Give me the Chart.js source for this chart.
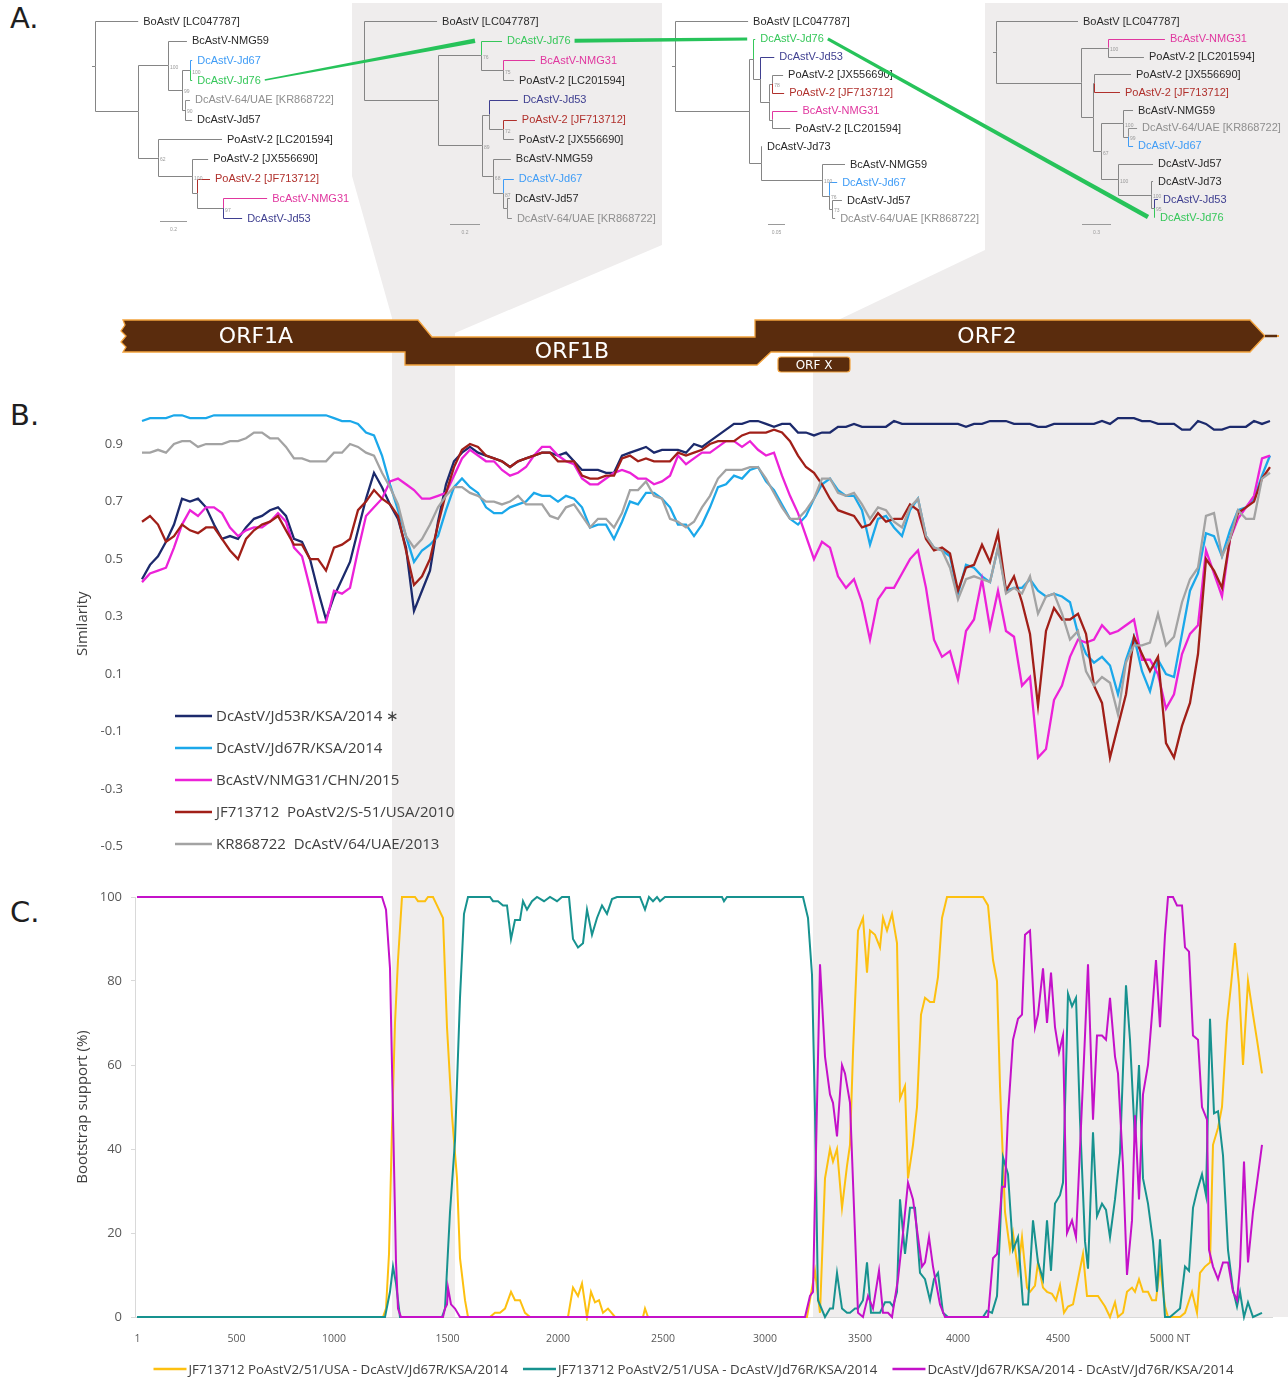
<!DOCTYPE html>
<html><head><meta charset="utf-8">
<script src="https://cdn.jsdelivr.net/npm/chart.js@4.4.1/dist/chart.umd.min.js"></script>
<style>
html,body{margin:0;padding:0;background:#fff;}
#page{position:relative;width:1288px;height:1380px;overflow:hidden;background:#fff;}
.bg{position:absolute;left:0;top:0;width:1288px;height:1380px;background:#efeded;}
canvas{position:absolute;left:0;}
.letter{position:absolute;left:10px;font-family:'DejaVu Sans',sans-serif;font-size:29px;color:#1e1e1e;line-height:1;}
</style></head><body>
<div id="page">
<div class="bg" id="bgL"></div><div class="bg" id="bgR"></div>
<div class="letter" style="top:4px">A.</div>
<div class="letter" style="top:401px">B.</div>
<div class="letter" style="top:898px">C.</div>
<canvas id="cTree" width="1288" height="300" style="top:0"></canvas>
<canvas id="cOrf" width="1288" height="85" style="top:300px"></canvas>
<canvas id="cSim" width="1288" height="480" style="top:390px"></canvas>
<canvas id="cBoot" width="1288" height="500" style="top:880px"></canvas>
</div>
<script>
// ---------------- DATA ----------------
// Panel A: maximum-likelihood trees (Newick, branch lengths in substitutions/site, node labels = bootstrap)
const taxonNames = {BO:'BoAstV [LC047787]', N59:'BcAstV-NMG59', J67:'DcAstV-Jd67', J76:'DcAstV-Jd76',
  KR:'DcAstV-64/UAE [KR868722]', J57:'DcAstV-Jd57', LC:'PoAstV-2 [LC201594]', JX:'PoAstV-2 [JX556690]',
  JF:'PoAstV-2 [JF713712]', N31:'BcAstV-NMG31', J53:'DcAstV-Jd53', J73:'DcAstV-Jd73'};
const tree1 = "(BO:0.32,((N59:0.14,((J67:0.015,J76:0.015)100:0.06,(KR:0.037,J57:0.052)90:0.022)99:0.104)100:0.222,(LC:0.474,(JX:0.119,(JF:0.096,(N31:0.326,J53:0.141)97:0.193):0.037)100:0.252)62:0.148):0.319);";
const tree2 = "(BO:0.487,((J76:0.14,(N31:0.213,LC:0.073)75:0.147)76:0.287,((J53:0.193,(JF:0.093,JX:0.073)72:0.093):0.047,(N59:0.12,(J67:0.073,(J57:0.02,KR:0.033):0.027)87:0.067)68:0.073)89:0.293):0.493);";
const tree3 = "(BO:0.215,((J76:0.006,(J53:0.041,((JX:0.032,JF:0.035)78:0.009,(N31:0.074,LC:0.053):0.009):0.026):0.021):0.012,(J73:0.003,(N59:0.068,(J67:0.024,(J57:0.029,KR:0.009)73:0.009)76:0.021)100:0.179):0.035):0.218);";
const tree4 = "(BO:0.848,((N31:0.589,LC:0.372)100:0.279,((JX:0.383,JF:0.269):0.010,((N59:0.103,(KR:0.093,J67:0.052)99:0.052)100:0.228,(J57:0.362,(J73:0.021,(J53:0.041,J76:0.010)95:0.031)100:0.341)100:0.176)67:0.083):0.124):0.879);";
const treeScaleBars = [0.2, 0.2, 0.05, 0.3];

// Genome map (alignment columns)
const orfLabels  = ['ORF1A','ORF1B','ORF2','ORF X'];
const orfStart   = [-60, 1350, 3100, 3215];
const orfEnd     = [1415, 3110, 5650, 3575];
const orfLabelAt = [605, 2185, 4260, 3395];
const recombRegions = [[1285, 1600], [3390, 5765]];

// Panel B: similarity plot, windows every 40 columns starting at column 35
const SIM_START = 35, SIM_STEP = 40;
const simLabels = ['DcAstV/Jd53R/KSA/2014 \u2217','DcAstV/Jd67R/KSA/2014','BcAstV/NMG31/CHN/2015','JF713712  PoAstV2/S-51/USA/2010','KR868722  DcAstV/64/UAE/2013'];
const simTicks = [-0.5,-0.3,-0.1,0.1,0.3,0.5,0.7,0.9];
const simJd53 = [
0.43,0.48,0.51,0.56,0.62,0.71,0.70,0.71,0.68,0.62,
0.57,0.58,0.57,0.61,0.64,0.65,0.67,0.68,0.65,0.57,
0.56,0.50,0.39,0.29,0.37,0.43,0.49,0.60,0.71,0.80,
0.75,0.69,0.64,0.54,0.32,0.39,0.46,0.63,0.76,0.84,
0.87,0.89,0.87,0.86,0.85,0.84,0.82,0.84,0.85,0.86,
0.87,0.87,0.86,0.87,0.84,0.81,0.81,0.81,0.80,0.80,
0.86,0.87,0.88,0.89,0.87,0.88,0.88,0.88,0.87,0.90,
0.89,0.91,0.93,0.95,0.97,0.97,0.98,0.98,0.97,0.96,
0.97,0.97,0.94,0.94,0.93,0.94,0.94,0.96,0.96,0.97,
0.96,0.96,0.96,0.96,0.98,0.97,0.97,0.97,0.97,0.97,
0.97,0.97,0.97,0.96,0.97,0.97,0.98,0.98,0.98,0.97,
0.97,0.97,0.96,0.96,0.97,0.97,0.97,0.97,0.97,0.97,
0.98,0.97,0.99,0.99,0.99,0.98,0.98,0.97,0.97,0.97,
0.95,0.95,0.98,0.97,0.95,0.95,0.96,0.96,0.96,0.98,
0.97,0.98];
const simJd67 = [
0.98,0.99,0.99,0.99,1.00,1.00,0.99,0.99,0.99,1.00,
1.00,1.00,1.00,1.00,1.00,1.00,1.00,1.00,1.00,1.00,
1.00,1.00,1.00,1.00,0.99,0.98,0.98,0.97,0.94,0.93,
0.86,0.76,0.67,0.58,0.49,0.53,0.55,0.58,0.67,0.75,
0.78,0.75,0.73,0.68,0.66,0.66,0.68,0.69,0.70,0.73,
0.72,0.72,0.70,0.72,0.71,0.68,0.61,0.62,0.62,0.57,
0.63,0.70,0.69,0.73,0.73,0.71,0.68,0.62,0.62,0.58,
0.62,0.68,0.75,0.76,0.79,0.78,0.81,0.82,0.77,0.74,
0.69,0.64,0.62,0.65,0.71,0.76,0.78,0.74,0.72,0.72,
0.67,0.55,0.64,0.65,0.61,0.58,0.67,0.71,0.58,0.54,
0.53,0.51,0.38,0.48,0.47,0.44,0.42,0.54,0.39,0.40,
0.40,0.43,0.39,0.37,0.38,0.37,0.35,0.24,0.17,0.14,
0.16,0.13,0.03,0.15,0.23,0.11,0.04,0.15,0.10,0.09,
0.24,0.39,0.45,0.59,0.58,0.51,0.60,0.67,0.68,0.71,
0.79,0.86];
const simNMG31 = [
0.42,0.45,0.46,0.47,0.54,0.62,0.67,0.65,0.68,0.68,
0.66,0.61,0.58,0.60,0.61,0.61,0.63,0.66,0.63,0.54,
0.51,0.40,0.28,0.28,0.39,0.38,0.40,0.53,0.65,0.68,
0.71,0.77,0.78,0.76,0.74,0.71,0.71,0.72,0.73,0.79,
0.85,0.88,0.86,0.84,0.84,0.81,0.79,0.80,0.82,0.86,
0.89,0.89,0.86,0.84,0.83,0.78,0.76,0.76,0.78,0.80,
0.81,0.80,0.78,0.78,0.76,0.77,0.79,0.86,0.83,0.85,
0.87,0.87,0.89,0.91,0.91,0.89,0.91,0.88,0.86,0.87,
0.79,0.72,0.66,0.58,0.50,0.56,0.54,0.44,0.40,0.43,
0.35,0.22,0.36,0.40,0.40,0.45,0.50,0.53,0.40,0.22,
0.16,0.18,0.08,0.25,0.29,0.43,0.26,0.39,0.25,0.23,
0.06,0.09,-0.19,-0.16,0.01,0.06,0.16,0.22,0.21,0.22,
0.27,0.24,0.25,0.27,0.29,0.15,0.15,0.10,-0.02,0.03,
0.17,0.24,0.27,0.53,0.45,0.37,0.57,0.64,0.68,0.72,
0.85,0.86];
const simJF713712 = [
0.63,0.65,0.62,0.56,0.58,0.62,0.60,0.59,0.61,0.61,
0.57,0.53,0.50,0.57,0.60,0.62,0.63,0.65,0.60,0.55,
0.55,0.50,0.50,0.46,0.54,0.55,0.57,0.67,0.70,0.74,
0.71,0.69,0.65,0.53,0.41,0.44,0.50,0.62,0.73,0.82,
0.88,0.90,0.89,0.86,0.85,0.84,0.82,0.84,0.85,0.86,
0.87,0.87,0.84,0.84,0.84,0.79,0.78,0.78,0.79,0.79,
0.85,0.86,0.84,0.85,0.84,0.84,0.84,0.87,0.86,0.87,
0.88,0.90,0.91,0.91,0.91,0.93,0.94,0.94,0.94,0.95,
0.94,0.91,0.86,0.82,0.80,0.76,0.71,0.67,0.66,0.65,
0.61,0.62,0.66,0.63,0.64,0.64,0.69,0.67,0.57,0.53,
0.54,0.52,0.39,0.47,0.48,0.55,0.49,0.59,0.39,0.44,
0.35,0.24,-0.01,0.25,0.33,0.29,0.29,0.31,0.24,0.06,
0.00,-0.19,-0.08,0.03,0.23,0.17,0.11,0.16,-0.14,-0.19,
-0.08,0.00,0.17,0.50,0.46,0.40,0.57,0.66,0.68,0.70,
0.78,0.82];
const simKR868722 = [
0.87,0.87,0.88,0.87,0.90,0.91,0.91,0.89,0.90,0.90,
0.90,0.91,0.91,0.92,0.94,0.94,0.92,0.92,0.89,0.85,
0.85,0.84,0.84,0.84,0.87,0.87,0.90,0.89,0.87,0.86,
0.80,0.75,0.69,0.58,0.54,0.57,0.62,0.68,0.72,0.75,
0.75,0.73,0.72,0.70,0.70,0.69,0.70,0.72,0.69,0.69,
0.69,0.65,0.64,0.68,0.69,0.65,0.61,0.64,0.64,0.61,
0.66,0.74,0.74,0.77,0.72,0.71,0.64,0.63,0.61,0.63,
0.68,0.72,0.78,0.81,0.81,0.81,0.82,0.82,0.78,0.73,
0.68,0.64,0.64,0.67,0.71,0.78,0.78,0.73,0.72,0.73,
0.69,0.64,0.68,0.67,0.63,0.61,0.68,0.71,0.58,0.54,
0.53,0.47,0.36,0.43,0.44,0.43,0.42,0.54,0.38,0.40,
0.38,0.44,0.31,0.37,0.38,0.31,0.22,0.25,0.11,0.06,
0.09,0.07,-0.04,0.14,0.20,0.20,0.21,0.31,0.20,0.23,
0.35,0.43,0.47,0.65,0.66,0.51,0.57,0.67,0.64,0.64,
0.78,0.80];

// Panel C: bootscan (alignment column, bootstrap %)
const bootLabels = ['JF713712 PoAstV2/51/USA - DcAstV/Jd67R/KSA/2014','JF713712 PoAstV2/51/USA - DcAstV/Jd76R/KSA/2014','DcAstV/Jd67R/KSA/2014 - DcAstV/Jd76R/KSA/2014'];
const bootTickAt = [12,508,995,1562,2115,2640,3150,3625,4115,4615,5175];
const bootTickLabels = ['1','500','1000','1500','2000','2500','3000','3500','4000','4500','5000 NT'];
const bootJF67Pos = [10,1240,1255,1270,1285,1300,1315,1335,1400,1415,1450,1465,1490,1510,1540,1560,1585,1610,1625,1650,1665,1775,1800,1825,1850,1880,1900,1925,1950,1975,2165,2190,2215,2235,2260,2280,2300,2320,2340,2365,2400,2540,2550,2565,3360,3400,3425,3450,3475,3490,3510,3535,3560,3575,3590,3615,3640,3660,3675,3700,3725,3740,3760,3785,3810,3825,3850,3865,3890,3910,3930,3950,3975,3995,4015,4035,4060,4240,4265,4290,4310,4325,4350,4375,4390,4415,4435,4460,4475,4500,4515,4540,4560,4585,4605,4625,4645,4665,4690,4715,4740,4760,4790,4815,4850,4875,4900,4915,4940,4960,4985,5000,5020,5040,5065,5085,5105,5125,5150,5165,5225,5250,5285,5310,5325,5350,5375,5390,5415,5435,5460,5480,5500,5520,5540,5565,5590,5610,5635];
const bootJF67    = [0,0,2,15,45,70,85,100,100,99,99,100,100,98,95,69,48,33,14,4,0,0,1,1,2,6,4,4,1,0,0,7,5,8,0,6,3.5,4,1,2,0,0,2,0,0,11,1,33,40,37,40,26,36,41,63,92,95,82,92,91,88,95,92,96,89,52,55,33,41,50,72,76,75,75,81,95,100,100,98,85,80,55,25,16,20,11,19,7,6,7.5,13,7,6,5.5,4,7.5,1,2.5,3,9,15,5,5,5,2.5,0,3.5,0,1,6,7,6,9,6,6,4,4,12,2.5,0,0,1,6,1,10.5,12,13,41,45,50,70,79,89,79,60,80,72,66,58];
const bootJF76Pos = [10,1250,1275,1290,1305,1325,1535,1550,1575,1600,1625,1645,1665,1775,1790,1815,1840,1860,1880,1900,1925,1940,1960,1985,2010,2045,2075,2110,2135,2170,2190,2215,2240,2260,2285,2310,2335,2360,2385,2410,2525,2550,2570,2590,2610,2625,2650,2935,2945,2960,3340,3365,3385,3400,3415,3450,3475,3490,3510,3535,3560,3575,3600,3615,3640,3660,3680,3725,3750,3775,3790,3810,3825,3850,3875,3900,3925,3950,3975,3995,4015,4040,4065,4240,4260,4285,4310,4325,4340,4365,4390,4415,4440,4465,4490,4515,4540,4560,4580,4600,4625,4640,4665,4685,4705,4725,4750,4765,4790,4810,4835,4855,4875,4900,4925,4955,4975,5000,5020,5040,5065,5090,5110,5125,5150,5175,5200,5225,5250,5270,5290,5310,5335,5355,5375,5395,5415,5440,5465,5490,5510,5525,5545,5565,5590,5635];
const bootJF76    = [0,0,6,12,8,0,0,2,25,42,76,96,100,100,99,99,98,98,90,94.5,94.5,99,97,99,100,99,100,99,100,100,90,88,89,97,91,95,98,96,99.5,100,100,97,100,99,100,99,100,100,99,100,100,95,81.5,48.5,4,0,2,2,10.5,2,1,1,2,2,4,13,1,1,3.5,3.5,2.5,6,28,15,26,26,10.5,9,4,9,10.5,1,0,0,1.5,1,5,20,38,34,16,19,3,3,23,13,9,23,11,27,29,32,77,74,76,47,18,11.5,44,24,27,25.5,19,28,39,79,66,42,60,33,27,18,6,18.5,0,0,1,2,12,11,26,30,34,29,71,48.5,49,38.5,16,6.5,2.5,6,0,3.5,0,1];
const boot6776Pos = [10,1235,1255,1275,1290,1305,1315,1330,1540,1550,1560,1565,1580,1600,1625,3350,3375,3390,3425,3450,3475,3490,3510,3535,3550,3575,3615,3640,3665,3690,3720,3740,3765,3785,3815,3840,3865,3890,3915,3935,3950,3970,3990,4025,4050,4265,4290,4310,4335,4350,4365,4390,4415,4435,4450,4475,4500,4515,4540,4560,4580,4600,4620,4640,4660,4685,4705,4725,4750,4765,4790,4810,4835,4855,4875,4900,4915,4940,4960,4985,5000,5020,5040,5065,5085,5105,5125,5150,5165,5190,5210,5235,5250,5270,5290,5315,5335,5360,5370,5390,5415,5440,5465,5490,5510,5525,5545,5565,5590,5610,5635];
const boot6776    = [100,100,97,83,48,13,2,0,0,2,3,7,3,2,0,0,5,6,84,62,53,51,43,60,58,51,1,0,5,2,11,1,1,0,9,20,32,28,19,12,13,19,12,3,0,0,14,15,31,31,48,66,71,72,91,92,69,72,83,70,82,69,63,67,20,23,19,40,67,84,47,67,67,66,76,62,58,36,10,23,48,28,53,60,72,85,69,91,100,100,98,98,88,87,67,66,50,47,16,12,9,13,13,6,4,12,37,13,25,32,41];

// ---------------- STYLE ----------------
Chart.defaults.font.family = "'Open Sans', 'DejaVu Sans', sans-serif";
const simColors  = ['#1c2a6c', '#1ba8ea', '#ec22d8', '#a11f18', '#a3a3a3'];
const bootColors = ['#fdc010', '#17928f', '#c411c9'];
const taxonColor = {J67:'#3f9cf6', J76:'#36c75a', KR:'#8f8f8f', JF:'#b0302c', N31:'#e0379f', J53:'#3f3f90'};
const LABEL_DARK = '#2a2a2a', BRANCH_GRAY = '#858585', LINK_GREEN = '#27c35a';
const treeLayout = [
  {rootX:95,  top:21, bottom:218, pxPerUnit:135,  barX:160,  barY:221},
  {rootX:364, top:21, bottom:218, pxPerUnit:150,  barX:450,  barY:224},
  {rootX:675, top:21, bottom:218, pxPerUnit:340,  barX:768,  barY:224},
  {rootX:996, top:21, bottom:217, pxPerUnit:96.7, barX:1082, barY:224}
];
const noAutoPad = a => { a.width = 65; a.paddingTop = 0; a.paddingBottom = 0; };

// ---------------- TREES ----------------
function parseNewick(s){
  let i = 0;
  function node(parent){
    const n = {children:[], name:'', len:0, support:'', parent};
    if (s[i] === '('){
      i++; n.children.push(node(n));
      while (s[i] === ','){ i++; n.children.push(node(n)); }
      i++;
    }
    let lab = ''; while (i < s.length && !':,);'.includes(s[i])) lab += s[i++];
    if (n.children.length) n.support = lab; else n.name = lab;
    if (s[i] === ':'){ i++; let num=''; while (i < s.length && !',);'.includes(s[i])) num += s[i++]; n.len = parseFloat(num); }
    return n;
  }
  return node(null);
}
function layoutTree(root, cfg){
  const leaves = [];
  (function collect(n){ if (!n.children.length) leaves.push(n); else n.children.forEach(collect); })(root);
  leaves.forEach((l,k) => l.yv = cfg.top + k*(cfg.bottom-cfg.top)/(leaves.length-1));
  (function pos(n, d){
    n.xv = cfg.rootX + d*cfg.pxPerUnit;
    n.children.forEach(c => pos(c, d + c.len));
    if (n.children.length) n.yv = (n.children[0].yv + n.children[n.children.length-1].yv)/2;
  })(root, 0);
  return leaves;
}
const trees = [tree1, tree2, tree3, tree4].map((nw, k) => {
  const root = parseNewick(nw);
  const leaves = layoutTree(root, treeLayout[k]);
  return {root, leaves, cfg: treeLayout[k], bar: treeScaleBars[k]};
});

function wedge(ctx, x1, y1, x2, y2, w1, w2, color){
  const dx = x2-x1, dy = y2-y1, L = Math.hypot(dx, dy), nx = -dy/L, ny = dx/L;
  ctx.beginPath();
  ctx.moveTo(x1+nx*w1/2, y1+ny*w1/2); ctx.lineTo(x2+nx*w2/2, y2+ny*w2/2);
  ctx.lineTo(x2-nx*w2/2, y2-ny*w2/2); ctx.lineTo(x1-nx*w1/2, y1-ny*w1/2);
  ctx.closePath(); ctx.fillStyle = color; ctx.fill();
}

const treePlugin = {
  id:'trees',
  afterDraw(chart){
    const {ctx, scales:{x, y}} = chart;
    const X = v => x.getPixelForValue(v), Y = v => y.getPixelForValue(v);
    ctx.save();
    const labelFont = "11px 'Liberation Sans', Arial, sans-serif";
    trees.forEach(t => {
      ctx.lineWidth = 1;
      (function edges(n){
        n.children.forEach(c => {
          ctx.strokeStyle = c.children.length ? BRANCH_GRAY : (taxonColor[c.name] || BRANCH_GRAY);
          ctx.beginPath();
          ctx.moveTo(Math.round(X(n.xv))+0.5, Y(n.yv));
          ctx.lineTo(Math.round(X(n.xv))+0.5, Math.round(Y(c.yv))+0.5);
          ctx.lineTo(X(c.xv), Math.round(Y(c.yv))+0.5);
          ctx.stroke();
          edges(c);
        });
      })(t.root);
      ctx.strokeStyle = BRANCH_GRAY;
      ctx.beginPath(); ctx.moveTo(X(t.root.xv)-3, Math.round(Y(t.root.yv))+0.5); ctx.lineTo(X(t.root.xv), Math.round(Y(t.root.yv))+0.5); ctx.stroke();
      ctx.font = labelFont; ctx.textBaseline = 'middle'; ctx.textAlign = 'left';
      t.leaves.forEach(l => {
        ctx.fillStyle = taxonColor[l.name] || LABEL_DARK;
        ctx.fillText(taxonNames[l.name], X(l.xv)+5, Y(l.yv)+0.5);
      });
      ctx.font = "5px 'Liberation Sans', Arial, sans-serif"; ctx.fillStyle = '#9a9a9a';
      (function sup(n){ if (n.support) ctx.fillText(n.support, X(n.xv)+2, Y(n.yv)+2); n.children.forEach(sup); })(t.root);
      const bx0 = X(t.cfg.barX), bx1 = X(t.cfg.barX + t.bar*t.cfg.pxPerUnit), by = Math.round(Y(t.cfg.barY))+0.5;
      ctx.strokeStyle = '#9a9a9a'; ctx.beginPath(); ctx.moveTo(bx0, by); ctx.lineTo(bx1, by); ctx.stroke();
      ctx.textAlign = 'center'; ctx.fillText(String(t.bar), (bx0+bx1)/2, by+8);
    });
    ctx.font = labelFont;
    const j76 = trees.map(t => t.leaves.find(l => l.name === 'J76'));
    const widths = [[1.5,4.5],[4,3],[3,4.5]];
    for (let k = 0; k < 3; k++){
      const a = j76[k], b = j76[k+1];
      const sx = X(a.xv) + 5 + ctx.measureText(taxonNames.J76).width + 4, sy = Y(a.yv);
      const ex = X(b.parent.xv) - 6, ey = Y(b.yv);
      wedge(ctx, sx, sy, ex, ey, widths[k][0], widths[k][1], LINK_GREEN);
    }
    ctx.restore();
  }
};
new Chart(document.getElementById('cTree'), {
  type:'scatter', data:{datasets:[]},
  options:{responsive:false, animation:false, events:[], layout:{padding:0},
    plugins:{legend:{display:false}, tooltip:{enabled:false}},
    scales:{x:{type:'linear', min:0, max:1288, display:false}, y:{type:'linear', min:0, max:300, reverse:true, display:false}}},
  plugins:[treePlugin]
});

// ---------------- GENOME MAP ----------------
const orfPlugin = {
  id:'orfMap',
  afterDraw(chart){
    const {ctx, scales:{x, y}} = chart;
    const X = v => x.getPixelForValue(v), Y = v => y.getPixelForValue(v);
    const top0 = Y(20), bot0 = Y(52), top1 = Y(37), bot1 = Y(65), mid0 = (top0+bot0)/2;
    const a0 = X(orfStart[0]), a1 = X(orfEnd[0]), b0 = X(orfStart[1]), b1 = X(orfEnd[1]);
    const c0 = X(orfStart[2]), c1 = X(orfEnd[2]);
    const slant = 14, head = 15, brown = '#5a2c0d', edge = '#f2a23c';
    ctx.save();
    ctx.beginPath();
    ctx.moveTo(a0, top0); ctx.lineTo(a1, top0); ctx.lineTo(a1+slant, top1); ctx.lineTo(c0, top1);
    ctx.lineTo(c0, top0); ctx.lineTo(c1-head, top0); ctx.lineTo(c1, mid0); ctx.lineTo(c1-head, bot0);
    ctx.lineTo(b1+slant, bot0); ctx.lineTo(b1, bot1); ctx.lineTo(b0, bot1); ctx.lineTo(b0, bot0); ctx.lineTo(a0, bot0);
    [[3,-5],[-2,-10],[3,-16],[-2,-21],[2,-27]].forEach(([dx,dy]) => ctx.lineTo(a0+dx, bot0+dy));
    ctx.closePath();
    ctx.fillStyle = brown; ctx.fill();
    ctx.strokeStyle = edge; ctx.lineWidth = 1.3; ctx.stroke();
    ctx.lineWidth = 2.5; ctx.strokeStyle = brown;
    ctx.beginPath(); ctx.moveTo(c1, mid0); ctx.lineTo(c1+12, mid0); ctx.stroke();
    ctx.fillStyle = edge; ctx.fillRect(c1+12, mid0-1, 2, 2);
    const xa = X(orfStart[3]), xb = X(orfEnd[3]), xt = Y(57), xbt = Y(72);
    ctx.beginPath(); ctx.roundRect(xa, xt, xb-xa, xbt-xt, 3);
    ctx.fillStyle = brown; ctx.fill(); ctx.lineWidth = 1.2; ctx.strokeStyle = edge; ctx.stroke();
    ctx.fillStyle = '#ffffff'; ctx.textAlign = 'center'; ctx.textBaseline = 'middle';
    ctx.font = "22px 'DejaVu Sans', sans-serif";
    ctx.fillText(orfLabels[0], X(orfLabelAt[0]), mid0+1);
    ctx.fillText(orfLabels[1], X(orfLabelAt[1]), (top1+bot1)/2+1);
    ctx.fillText(orfLabels[2], X(orfLabelAt[2]), mid0+1);
    ctx.font = "12px 'DejaVu Sans', sans-serif";
    ctx.fillText(orfLabels[3], X(orfLabelAt[3]), (xt+xbt)/2+1);
    ctx.restore();
  }
};
new Chart(document.getElementById('cOrf'), {
  type:'scatter', data:{datasets:[]},
  options:{responsive:false, animation:false, events:[], layout:{padding:{left:135, right:16, top:0, bottom:0}},
    plugins:{legend:{display:false}, tooltip:{enabled:false}},
    scales:{x:{type:'linear', min:0, max:5685, display:false}, y:{type:'linear', min:0, max:85, reverse:true, display:false}}},
  plugins:[orfPlugin]
});

// ---------------- PANEL B ----------------
const simSeries = [simJd53, simJd67, simNMG31, simJF713712, simKR868722];
const simLegendPlugin = {
  id:'simLegend',
  afterDraw(chart){
    const {ctx, chartArea:ca} = chart;
    ctx.save();
    ctx.font = "15px 'Open Sans', sans-serif"; ctx.textBaseline = 'middle'; ctx.textAlign = 'left';
    chart.data.datasets.forEach((ds, i) => {
      const yy = ca.bottom - 130.7 + i*32;
      ctx.strokeStyle = ds.borderColor; ctx.lineWidth = 2.5;
      ctx.beginPath(); ctx.moveTo(ca.left+40, yy); ctx.lineTo(ca.left+77, yy); ctx.stroke();
      ctx.fillStyle = '#404040'; ctx.fillText(ds.label, ca.left+81, yy+1);
    });
    ctx.restore();
  }
};
new Chart(document.getElementById('cSim'), {
  type:'line',
  data:{datasets: simSeries.map((s, i) => ({
    label: simLabels[i], data: s.map((v, k) => ({x: SIM_START + k*SIM_STEP, y: v})),
    borderColor: simColors[i], borderWidth: 2.3, pointRadius: 0, tension: 0, fill: false, order: 4-i, clip: 4
  }))},
  options:{responsive:false, animation:false, events:[],
    layout:{padding:{left:70, right:16, top:10.9, bottom:23.3}},
    plugins:{legend:{display:false}, tooltip:{enabled:false}},
    scales:{
      x:{type:'linear', min:0, max:5685, display:false},
      y:{type:'linear', min:-0.5, max:1.05,
        afterBuildTicks: a => { a.ticks = simTicks.map(v => ({value:v})); },
        afterFit: noAutoPad,
        grid:{display:false, drawTicks:false}, border:{display:false},
        ticks:{padding:12, color:'#595959', font:{size:13}, callback: v => Number(v).toFixed(1)},
        title:{display:true, text:'Similarity', color:'#404040', font:{size:15}, padding:{top:4, bottom:0}}
      }
    }
  },
  plugins:[simLegendPlugin]
});

// ---------------- PANEL C ----------------
const bootLegendPlugin = {
  id:'bootLegend',
  afterDraw(chart){
    const {ctx, chartArea:ca} = chart;
    ctx.save();
    ctx.font = "13.3px 'Open Sans', sans-serif"; ctx.textBaseline = 'middle'; ctx.textAlign = 'left';
    const lineW = 33, gapT = 2, gapI = 15;
    const items = chart.data.datasets.map(ds => ({ds, w: lineW + gapT + ctx.measureText(ds.label).width}));
    const total = items.reduce((s, it) => s + it.w, 0) + gapI*(items.length-1);
    let xx = (ca.left + ca.right)/2 - 10 - total/2;
    const yy = ca.bottom + 52;
    items.forEach(it => {
      ctx.strokeStyle = it.ds.borderColor; ctx.lineWidth = 2.5;
      ctx.beginPath(); ctx.moveTo(xx, yy); ctx.lineTo(xx+lineW, yy); ctx.stroke();
      ctx.fillStyle = '#404040'; ctx.fillText(it.ds.label, xx+lineW+gapT, yy+1);
      xx += it.w + gapI;
    });
    ctx.restore();
  }
};
const pts = (xs, ys) => xs.map((v, i) => ({x: v, y: ys[i]}));
const bootSeries = [pts(bootJF67Pos, bootJF67), pts(bootJF76Pos, bootJF76), pts(boot6776Pos, boot6776)];
const bootChart = new Chart(document.getElementById('cBoot'), {
  type:'line',
  data:{datasets: bootSeries.map((d, i) => ({
    label: bootLabels[i], data: d, borderColor: bootColors[i], borderWidth: 2, pointRadius: 0, tension: 0, fill: false, order: 2-i, clip: 4
  }))},
  options:{responsive:false, animation:false, events:[],
    layout:{padding:{left:70, right:16, top:17, bottom:0}},
    plugins:{legend:{display:false}, tooltip:{enabled:false}},
    scales:{
      x:{type:'linear', min:0, max:5685,
        afterBuildTicks: a => { a.ticks = bootTickAt.map(v => ({value:v})); },
        afterFit: a => { a.height = 63; },
        grid:{display:false, drawTicks:false}, border:{display:true, color:'#d9d9d9', width:1},
        ticks:{autoSkip:false, maxRotation:0, padding:16, color:'#595959', font:{size:10.5}, callback:(v, i) => bootTickLabels[i]}
      },
      y:{type:'linear', min:0, max:100,
        afterFit: noAutoPad,
        grid:{display:true, drawOnChartArea:false, drawTicks:true, tickLength:4, color:'#d9d9d9'},
        border:{display:true, color:'#d9d9d9', width:1},
        ticks:{stepSize:20, padding:9, color:'#595959', font:{size:13}},
        title:{display:true, text:'Bootstrap support (%)', color:'#404040', font:{size:15}, padding:{top:4, bottom:0}}
      }
    }
  },
  plugins:[bootLegendPlugin]
});

// ---------------- shaded recombination bands (joined to trees 2 and 4) ----------------
(function(){
  const gx = v => bootChart.scales.x.getPixelForValue(v);
  const L1 = gx(recombRegions[0][0]), R1 = gx(recombRegions[0][1]), L2 = gx(recombRegions[1][0]);
  const bottomY = 880 + bootChart.chartArea.bottom;
  document.getElementById('bgL').style.clipPath =
    `polygon(352px 3px, 662px 3px, 662px 245px, ${R1}px 333px, ${R1}px ${bottomY}px, ${L1}px ${bottomY}px, ${L1}px 318px, 352px 176px)`;
  document.getElementById('bgR').style.clipPath =
    `polygon(985px 3px, 1288px 3px, 1288px ${bottomY}px, ${L2}px ${bottomY}px, ${L2}px 332px, 985px 250px)`;
})();
</script>
</body></html>
